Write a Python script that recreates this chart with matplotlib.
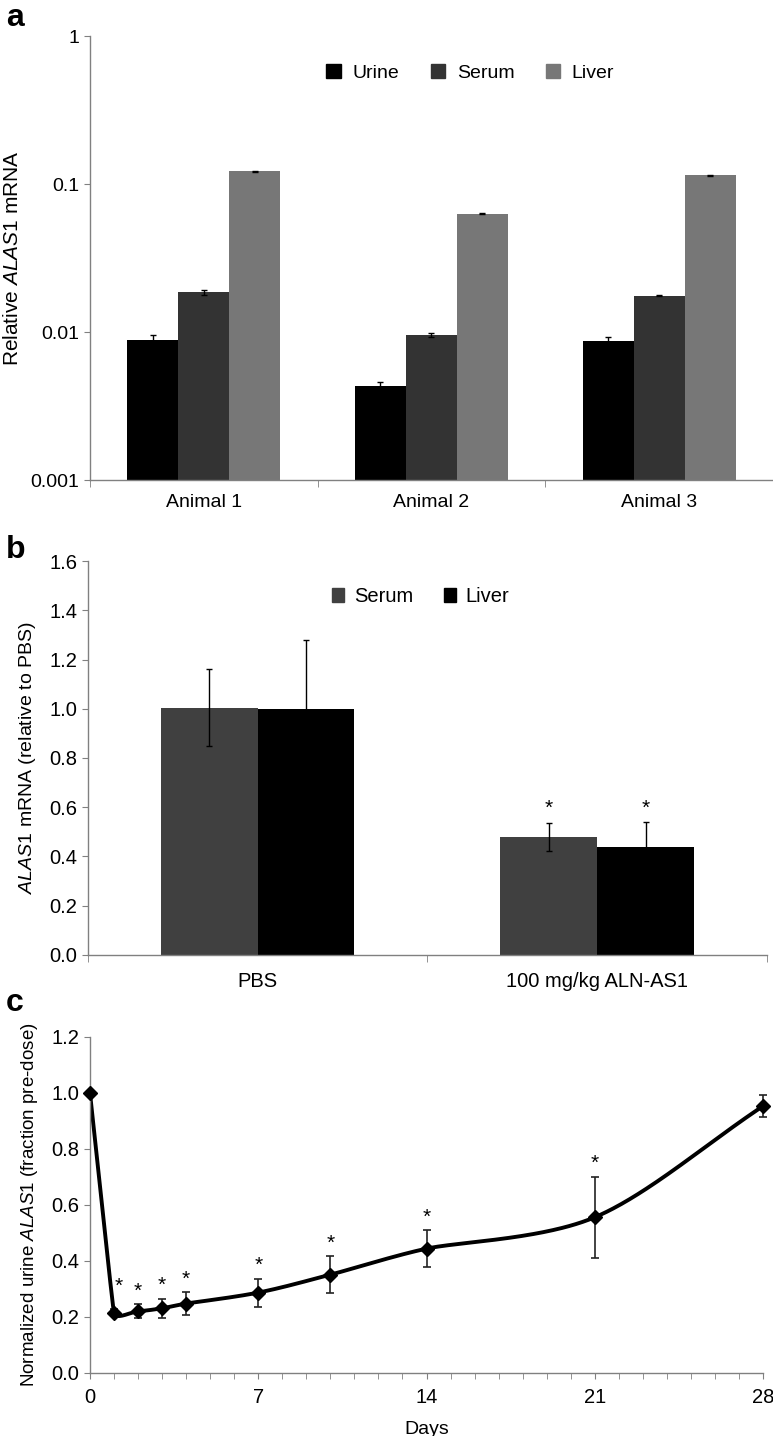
import numpy as np
import matplotlib
matplotlib.use('Agg')
import matplotlib.pyplot as plt
from matplotlib.patches import Patch

plt.rcParams['font.family'] = ['Liberation Sans', 'DejaVu Sans']
plt.rcParams['mathtext.fontset'] = 'custom'
plt.rcParams['mathtext.rm'] = 'Liberation Sans'
plt.rcParams['mathtext.it'] = 'Liberation Sans:italic'

# ---- panel a data ----
animals = ['Animal 1', 'Animal 2', 'Animal 3']
tissues_a = ['Urine', 'Serum', 'Liver']
urine = [0.0089, 0.0043, 0.0087]
urine_err = [0.0006, 0.0003, 0.0006]
serum_a = [0.0186, 0.0096, 0.0176]
serum_a_err = [0.0007, 0.0003, 0.0002]
liver_a = [0.122, 0.063, 0.115]
liver_a_err = [0.001, 0.0006, 0.001]
colors_a = ['#000000', '#333333', '#777777']

# ---- panel b data ----
groups_b = ['PBS', '100 mg/kg ALN-AS1']
serum_b = [1.005, 0.478]
serum_b_err = [0.155, 0.056]
liver_b = [1.0, 0.44]
liver_b_err = [0.28, 0.10]
signif_b = [False, True]
colors_b = ['#404040', '#000000']

# ---- panel c data ----
days = [0, 1, 2, 3, 4, 7, 10, 14, 21, 28]
urine_c = [1.0, 0.215, 0.220, 0.231, 0.248, 0.287, 0.351, 0.444, 0.556, 0.953]
urine_c_err = [0.0, 0.012, 0.025, 0.034, 0.040, 0.050, 0.066, 0.066, 0.145, 0.040]
signif_c = [False, True, True, True, True, True, True, True, True, False]

fig = plt.figure(figsize=(7.73, 14.36), dpi=100)
spine_col = '#808080'


def style_axes(ax):
    for s in ['top', 'right']:
        ax.spines[s].set_visible(False)
    for s in ['left', 'bottom']:
        ax.spines[s].set_color(spine_col)
        ax.spines[s].set_linewidth(1.0)
    ax.tick_params(axis='both', which='both', color=spine_col, direction='out')


# ================= panel a =================
ax1 = fig.add_axes([0.1164, 0.6657, 0.8836, 0.3092])
x = np.arange(len(animals))
w = 0.224
base = 0.001
for i, (vals, errs) in enumerate([(urine, urine_err), (serum_a, serum_a_err), (liver_a, liver_a_err)]):
    ax1.bar(x + (i - 1) * w, np.array(vals) - base, w, bottom=base, color=colors_a[i], label=tissues_a[i])
    ax1.errorbar(x + (i - 1) * w, vals, yerr=errs, fmt='none', ecolor='black',
                 elinewidth=1, capsize=2.5, capthick=1)
ax1.set_yscale('log')
ax1.set_ylim(0.001, 1)
ax1.set_xlim(-0.5, 2.5)
ax1.set_yticks([0.001, 0.01, 0.1, 1])
ax1.set_yticklabels(['0.001', '0.01', '0.1', '1'])
ax1.yaxis.set_minor_locator(matplotlib.ticker.NullLocator())
ax1.set_xticks(x)
ax1.set_xticklabels(animals)
ax1.set_xticks([-0.5, 0.5, 1.5, 2.5], minor=True)
style_axes(ax1)
ax1.tick_params(axis='x', which='major', length=0, labelsize=14, pad=10)
ax1.tick_params(axis='x', which='minor', length=5)
ax1.tick_params(axis='y', length=4, labelsize=14)
ax1.set_ylabel('Relative $\\mathit{ALAS1}$ mRNA', fontsize=15, labelpad=6)
ax1.legend(handles=[Patch(color=c, label=t) for c, t in zip(colors_a, tissues_a)],
           loc='center', bbox_to_anchor=(0.557, 0.917), ncol=3, frameon=False,
           fontsize=14, handlelength=0.75, handleheight=0.75, columnspacing=1.6, handletextpad=0.6)

# ================= panel b =================
ax2 = fig.add_axes([0.1138, 0.3350, 0.8784, 0.2743])
xb = np.arange(len(groups_b))
wb = 0.285
ekw = dict(ecolor='black', elinewidth=1, capsize=2, capthick=1)
ax2.bar(xb - wb / 2, serum_b, wb, color=colors_b[0], label='Serum', yerr=serum_b_err, error_kw=ekw)
ax2.bar(xb + wb / 2, liver_b, wb, color=colors_b[1], label='Liver', yerr=liver_b_err, error_kw=ekw)
for xi, s in zip(xb, signif_b):
    if s:
        ax2.text(xi - wb / 2, 0.596, '*', ha='center', va='center', fontsize=15)
        ax2.text(xi + wb / 2, 0.596, '*', ha='center', va='center', fontsize=15)
ax2.set_ylim(0, 1.6)
ax2.set_xlim(-0.5, 1.5)
ax2.set_yticks(np.arange(0, 1.61, 0.2))
ax2.set_yticklabels(['%.1f' % v for v in np.arange(0, 1.61, 0.2)])
ax2.set_xticks(xb)
ax2.set_xticklabels(groups_b)
ax2.set_xticks([-0.5, 0.5, 1.5], minor=True)
style_axes(ax2)
ax2.tick_params(axis='x', which='major', length=0, labelsize=14.5, pad=12)
ax2.tick_params(axis='x', which='minor', length=5)
ax2.tick_params(axis='y', length=4, labelsize=14.5)
ax2.set_ylabel('$\\mathit{ALAS1}$ mRNA (relative to PBS)', fontsize=14, labelpad=8)
ax2.legend(handles=[Patch(color=colors_b[0], label='Serum'), Patch(color=colors_b[1], label='Liver')],
           loc='center', bbox_to_anchor=(0.49, 0.909), ncol=2, frameon=False,
           fontsize=14.5, handlelength=0.6, handleheight=0.7, columnspacing=1.5, handletextpad=0.5)

# ================= panel c =================
ax3 = fig.add_axes([0.1164, 0.0439, 0.8707, 0.2340])

# smoothed line: Bezier through the points, control arms limited by the shorter neighbour segment
sx, sy = 24.0, 280.0
P = np.column_stack([np.array(days, float) * sx, np.array(urine_c) * sy])
n = len(P)
seglen = np.linalg.norm(np.diff(P, axis=0), axis=1)
dirs = np.zeros_like(P)
arm = np.zeros(n)
for i in range(n):
    if i == 0:
        v = P[1] - P[0]
        arm[i] = seglen[0] / 3
    elif i == n - 1:
        v = P[-1] - P[-2]
        arm[i] = seglen[-1] / 3
    else:
        v = P[i + 1] - P[i - 1]
        arm[i] = min(seglen[i - 1], seglen[i]) / 3
    dirs[i] = v / np.linalg.norm(v)
curve = []
t = np.linspace(0, 1, 80)[:, None]
for i in range(n - 1):
    p0, p3 = P[i], P[i + 1]
    c1 = p0 + dirs[i] * arm[i]
    c2 = p3 - dirs[i + 1] * arm[i + 1]
    seg = (1 - t) ** 3 * p0 + 3 * (1 - t) ** 2 * t * c1 + 3 * (1 - t) * t ** 2 * c2 + t ** 3 * p3
    curve.append(seg)
curve = np.vstack(curve)
ax3.plot(curve[:, 0] / sx, curve[:, 1] / sy, color='black', lw=2.8, solid_capstyle='round',
         solid_joinstyle='round', zorder=2)
ax3.errorbar(days, urine_c, yerr=urine_c_err, fmt='D', color='black', ms=7,
             ecolor='#222222', elinewidth=1.2, capsize=3, capthick=1.2, zorder=3, clip_on=False)
for d, v, e, s in zip(days, urine_c, urine_c_err, signif_c):
    if s:
        if d == 1:
            ax3.text(1.2, 0.31, '*', ha='center', va='center', fontsize=15)
        else:
            ax3.text(d, v + e + 0.047, '*', ha='center', va='center', fontsize=15)
ax3.set_xlim(0, 28)
ax3.set_ylim(0, 1.2)
ax3.set_xticks([0, 7, 14, 21, 28])
ax3.set_xticks(np.arange(0, 29, 1), minor=True)
ax3.set_yticks(np.arange(0, 1.21, 0.2))
ax3.set_yticklabels(['%.1f' % v for v in np.arange(0, 1.21, 0.2)])
style_axes(ax3)
ax3.tick_params(axis='x', which='both', length=4, labelsize=14.5, pad=7)
ax3.tick_params(axis='y', length=4, labelsize=14.5)
ax3.set_xlabel('Days', fontsize=14, labelpad=10)
ax3.set_ylabel('Normalized urine $\\mathit{ALAS1}$ (fraction pre-dose)', fontsize=13.5, labelpad=8)

# panel letters
fig.text(0.008, 0.9875, 'a', fontsize=23, fontweight='bold', va='center')
fig.text(0.008, 0.617, 'b', fontsize=23, fontweight='bold', va='center')
fig.text(0.008, 0.3015, 'c', fontsize=23, fontweight='bold', va='center')

fig.savefig('out.png', dpi=100)
